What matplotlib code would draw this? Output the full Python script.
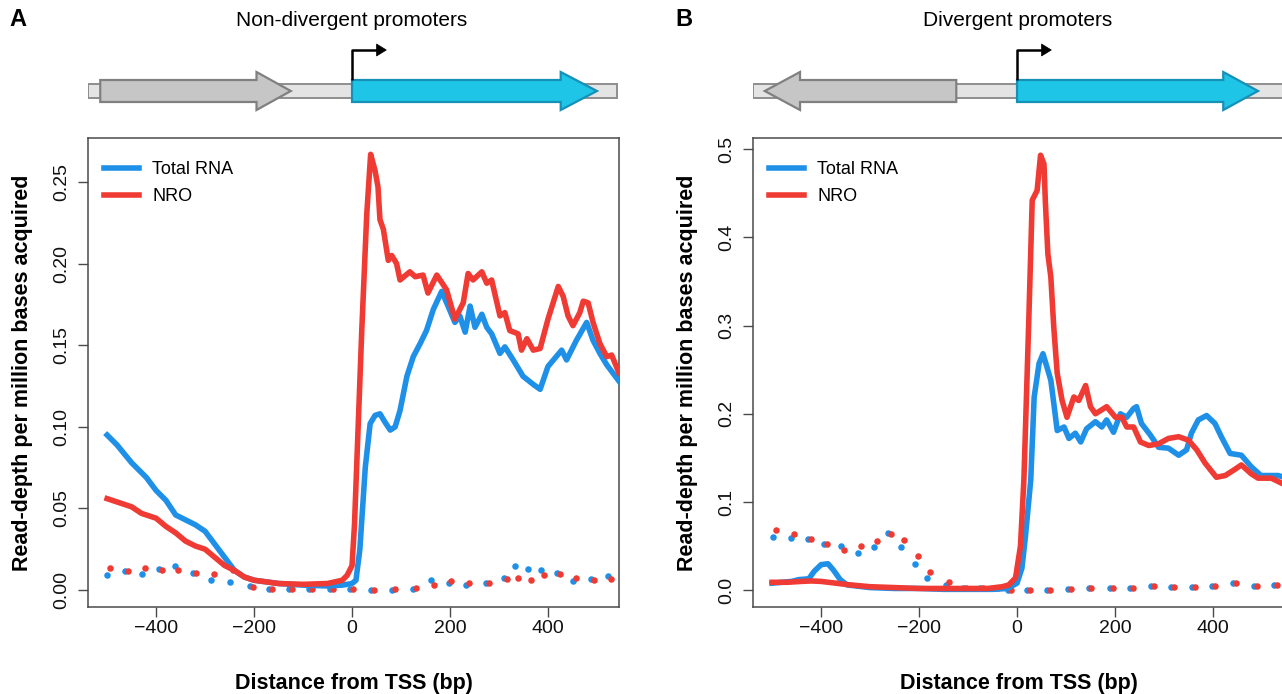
import matplotlib
matplotlib.use('Agg')
import matplotlib.pyplot as plt
from matplotlib.patches import Polygon, Rectangle

plt.rcParams['font.family'] = ['Liberation Sans', 'DejaVu Sans']

# ---------------------------------------------------------
# Data
# ---------------------------------------------------------
BLUE = '#1f90e8'
RED = '#ef3b33'

# Panel A - non-divergent promoters
a_total_x = [-500, -480, -450, -420, -400, -380, -360, -340, -320, -300, -280, -260, -240, -220,
             -200, -150, -100, -50, -20, 0, 8, 16, 27, 37, 47, 57, 67, 78, 88, 98, 112, 125, 139,
             152, 166, 183, 196, 210, 220, 231, 241, 251, 265, 275, 285, 302, 312, 329, 349, 370,
             384, 400, 428, 438, 458, 479, 492, 506, 520, 545]
a_total_y = [0.095, 0.089, 0.078, 0.069, 0.061, 0.055, 0.046, 0.043, 0.040, 0.036, 0.028, 0.020,
             0.012, 0.008, 0.006, 0.004, 0.003, 0.0025, 0.003, 0.004, 0.006, 0.025, 0.075, 0.102,
             0.107, 0.108, 0.103, 0.098, 0.100, 0.110, 0.131, 0.143, 0.151, 0.159, 0.172, 0.183,
             0.174, 0.164, 0.168, 0.158, 0.174, 0.161, 0.169, 0.161, 0.157, 0.145, 0.149, 0.141,
             0.131, 0.126, 0.123, 0.137, 0.147, 0.141, 0.153, 0.164, 0.153, 0.145, 0.138, 0.128]

a_nro_x = [-500, -470, -450, -430, -400, -380, -360, -340, -320, -300, -280, -260, -240, -220,
           -200, -150, -100, -50, -20, -10, 0, 5, 10, 20, 30, 38, 47, 53, 57, 64, 74, 81, 91, 98,
           118, 129, 145, 155, 173, 193, 210, 227, 237, 247, 265, 275, 285, 302, 312, 322, 339,
           346, 357, 370, 384, 400, 421, 431, 441, 451, 465, 472, 482, 492, 506, 520, 530, 545]
a_nro_y = [0.056, 0.053, 0.051, 0.047, 0.044, 0.039, 0.035, 0.030, 0.027, 0.025, 0.020, 0.015,
           0.012, 0.008, 0.006, 0.004, 0.0035, 0.004, 0.006, 0.009, 0.015, 0.04, 0.08, 0.16, 0.23,
           0.267, 0.257, 0.247, 0.227, 0.221, 0.202, 0.205, 0.200, 0.190, 0.195, 0.192, 0.193,
           0.182, 0.193, 0.184, 0.166, 0.176, 0.194, 0.190, 0.195, 0.188, 0.190, 0.168, 0.170,
           0.159, 0.157, 0.147, 0.154, 0.147, 0.148, 0.166, 0.186, 0.180, 0.168, 0.162, 0.170,
           0.177, 0.176, 0.164, 0.151, 0.143, 0.144, 0.133]

a_dot_x = [-500, -464, -429, -394, -361, -324, -288, -250, -209, -169, -128, -88, -45, -4, 39,
           82, 124, 162, 197, 233, 273, 310, 332, 360, 386, 418, 452, 487, 523]
a_dot_total = [0.0092, 0.0116, 0.0101, 0.0127, 0.0145, 0.0107, 0.0059, 0.0048, 0.0026, 0.0004,
               0.0004, 0.0004, 0.0004, 0.0004, 0.0003, 0.0, 0.0009, 0.0061, 0.0044, 0.0028,
               0.0044, 0.0074, 0.0149, 0.0131, 0.0123, 0.0105, 0.0055, 0.0066, 0.0083]
a_dot_nro = [0.0138, 0.0116, 0.0134, 0.0125, 0.012, 0.0105, 0.0101, 0.012, 0.002, 0.0004,
             0.0004, 0.0004, 0.0004, 0.0004, 0.0003, 0.0006, 0.001, 0.0033, 0.0055, 0.0044,
             0.0044, 0.007, 0.0075, 0.0061, 0.0092, 0.0096, 0.0072, 0.0059, 0.0066]

# Panel B - divergent promoters
b_total_x = [-500, -460, -446, -425, -414, -400, -386, -375, -361, -347, -300, -250, -200, -150,
             -100, -50, -20, 0, 10, 17, 28, 35, 45, 53, 61, 69, 75, 82, 96, 106, 119, 130, 142,
             160, 173, 183, 197, 211, 224, 238, 244, 254, 272, 289, 309, 330, 346, 356, 370, 387,
             404, 417, 435, 458, 478, 498, 533, 545]
b_total_y = [0.008, 0.010, 0.012, 0.013, 0.0215, 0.029, 0.030, 0.023, 0.012, 0.006, 0.003, 0.002,
             0.002, 0.001, 0.001, 0.001, 0.002, 0.008, 0.025, 0.06, 0.125, 0.219, 0.257, 0.268,
             0.253, 0.238, 0.212, 0.181, 0.185, 0.172, 0.178, 0.168, 0.183, 0.191, 0.185, 0.193,
             0.179, 0.200, 0.196, 0.206, 0.208, 0.189, 0.176, 0.162, 0.161, 0.153, 0.159, 0.178,
             0.193, 0.198, 0.189, 0.174, 0.155, 0.153, 0.140, 0.130, 0.130, 0.128]

b_nro_x = [-500, -470, -440, -420, -400, -370, -340, -300, -250, -200, -150, -100, -60, -30, -17,
           -3, 7, 14, 24, 31, 41, 48, 55, 58, 63, 69, 75, 82, 92, 102, 116, 126, 140, 150, 160,
           183, 201, 214, 224, 238, 252, 269, 289, 309, 330, 350, 367, 384, 407, 425, 442, 458,
           478, 492, 519, 545]
b_nro_y = [0.009, 0.009, 0.010, 0.0105, 0.010, 0.008, 0.006, 0.004, 0.003, 0.002, 0.002, 0.002,
           0.002, 0.004, 0.006, 0.014, 0.05, 0.125, 0.306, 0.442, 0.453, 0.493, 0.483, 0.438,
           0.381, 0.355, 0.298, 0.246, 0.215, 0.196, 0.219, 0.215, 0.232, 0.208, 0.200, 0.208,
           0.196, 0.196, 0.185, 0.185, 0.168, 0.164, 0.166, 0.172, 0.174, 0.170, 0.159, 0.144,
           0.128, 0.130, 0.136, 0.142, 0.132, 0.127, 0.127, 0.120]

b_dot_x = [-498, -462, -427, -394, -359, -324, -292, -264, -236, -208, -183, -145, -110, -75,
           -45, -18, 20, 62, 104, 146, 189, 231, 273, 315, 357, 399, 441, 483, 525]
b_dot_total = [0.060, 0.0594, 0.0586, 0.0524, 0.0497, 0.0422, 0.0489, 0.065, 0.0485, 0.030,
               0.0137, 0.0059, 0.002, 0.002, 0.002, 0.0, 0.0008, 0.0008, 0.0012, 0.002, 0.0023,
               0.003, 0.0047, 0.0035, 0.0035, 0.0043, 0.0078, 0.005, 0.0063]
b_dot_nro = [0.0677, 0.0637, 0.0586, 0.052, 0.0457, 0.050, 0.0563, 0.0637, 0.0567, 0.039,
             0.0207, 0.0094, 0.002, 0.002, 0.002, 0.0, 0.0008, 0.0008, 0.0012, 0.002, 0.0023,
             0.003, 0.0047, 0.0035, 0.0035, 0.0043, 0.0078, 0.005, 0.0063]

x_ticks = [-400, -200, 0, 200, 400]
x_tick_labels = ['\u2212400', '\u2212200', '0', '200', '400']
a_y_ticks = [0.00, 0.05, 0.10, 0.15, 0.20, 0.25]
a_y_labels = ['0.00', '0.05', '0.10', '0.15', '0.20', '0.25']
b_y_ticks = [0.0, 0.1, 0.2, 0.3, 0.4, 0.5]
b_y_labels = ['0.0', '0.1', '0.2', '0.3', '0.4', '0.5']

# gene diagram features in bp: (start, head base, tip)
a_upstream_gene = (-514, -195, -125)
a_main_gene = (0, 426, 500)
b_upstream_gene = (-124, -443, -515)
b_main_gene = (0, 421, 492)

XLIM = (-539, 545)
RED_DOT_SHIFT = 6

# ---------------------------------------------------------
# Layout
# ---------------------------------------------------------
W, H = 1282, 694
fig = plt.figure(figsize=(W / 100, H / 100), dpi=100)


def px_box(left, top, right, bottom):
    return [left / W, 1 - bottom / H, (right - left) / W, (bottom - top) / H]


ax_a = fig.add_axes(px_box(88, 138, 619, 607))
ax_b = fig.add_axes(px_box(753, 138, 1284, 607))
dg_a = fig.add_axes(px_box(88, 40, 619, 120))
dg_b = fig.add_axes(px_box(753, 40, 1284, 120))

AXIS_COL = '#4a4a4a'


def style_axes(ax, ylim, yticks, ylabels):
    ax.set_xlim(*XLIM)
    ax.set_ylim(*ylim)
    ax.set_xticks(x_ticks)
    ax.set_xticklabels(x_tick_labels)
    ax.set_yticks(yticks)
    ax.set_yticklabels(ylabels, rotation=90, va='center')
    for s in ax.spines.values():
        s.set_color(AXIS_COL)
        s.set_linewidth(1.1)
    ax.tick_params(axis='both', direction='out', length=7.5, width=1.0, color=AXIS_COL,
                   labelsize=14, labelcolor='#111111')
    ax.tick_params(axis='x', pad=2)
    ax.tick_params(axis='y', pad=5)
    ax.set_xlabel('Distance from TSS (bp)', fontsize=15.5, fontweight='bold')
    ax.set_ylabel('Read-depth per million bases acquired', fontsize=15.5, fontweight='bold')
    ax.xaxis.set_label_coords(0.5, -0.14)
    ax.yaxis.set_label_coords(-0.104, 0.5)


def draw_panel(ax, tx, ty, nx, ny, dx, dtot, dnro):
    ax.plot(tx, ty, color=BLUE, lw=4.0, solid_joinstyle='round', label='Total RNA', zorder=3)
    ax.plot(nx, ny, color=RED, lw=4.0, solid_joinstyle='round', label='NRO', zorder=4)
    ax.scatter(dx, dtot, s=22, color=BLUE, lw=0, zorder=2)
    ax.scatter([v + RED_DOT_SHIFT for v in dx], dnro, s=22, color=RED, lw=0, zorder=2)
    ax.legend(loc='upper left', bbox_to_anchor=(0.0, 0.985), frameon=False, fontsize=13,
              handlelength=1.95, handletextpad=0.7, labelspacing=0.55)


def gene_arrow(ax, start, head, tip, color, edge):
    body_lo, body_hi, head_lo, head_hi = 18, 40, 10, 48
    pts = [(start, body_lo), (head, body_lo), (head, head_lo), (tip, 29),
           (head, head_hi), (head, body_hi), (start, body_hi)]
    ax.add_patch(Polygon(pts, closed=True, facecolor=color, edgecolor=edge, lw=1.6, zorder=3))


def draw_diagram(ax, upstream, main, bar_end):
    ax.set_xlim(*XLIM)
    ax.set_ylim(0, 80)
    ax.axis('off')
    ax.add_patch(Rectangle((XLIM[0] + 1, 22), bar_end - XLIM[0] - 1, 14, facecolor='#e4e4e4',
                           edgecolor='#8e8e8e', lw=1.4, zorder=1))
    gene_arrow(ax, *upstream, color='#c6c6c6', edge='#808080')
    gene_arrow(ax, *main, color='#1fc5e6', edge='#1590b6')
    # transcription start arrow
    ax.plot([0, 0, 52], [40, 70, 70], color='black', lw=1.8, solid_capstyle='butt', zorder=4)
    ax.add_patch(Polygon([(50, 64), (70, 70), (50, 76)], closed=True, facecolor='black',
                         edgecolor='black', lw=0.5, zorder=4))


style_axes(ax_a, (-0.0104, 0.277), a_y_ticks, a_y_labels)
style_axes(ax_b, (-0.019, 0.5125), b_y_ticks, b_y_labels)
draw_panel(ax_a, a_total_x, a_total_y, a_nro_x, a_nro_y, a_dot_x, a_dot_total, a_dot_nro)
draw_panel(ax_b, b_total_x, b_total_y, b_nro_x, b_nro_y, b_dot_x, b_dot_total, b_dot_nro)
draw_diagram(dg_a, a_upstream_gene, a_main_gene, 541)
draw_diagram(dg_b, b_upstream_gene, b_main_gene, 545)

fig.text(352 / W, 1 - 20 / H, 'Non-divergent promoters', fontsize=15, ha='center', va='center')
fig.text(1018 / W, 1 - 20 / H, 'Divergent promoters', fontsize=15, ha='center', va='center')
fig.text(18 / W, 1 - 20 / H, 'A', fontsize=17, fontweight='bold', ha='center', va='center')
fig.text(684 / W, 1 - 20 / H, 'B', fontsize=17, fontweight='bold', ha='center', va='center')

fig.savefig('out.png', dpi=100)
